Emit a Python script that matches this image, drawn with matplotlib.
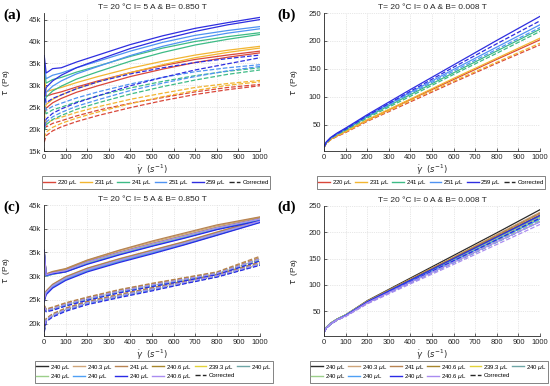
import matplotlib
matplotlib.use('Agg')
import matplotlib.pyplot as plt
from matplotlib.lines import Line2D
import numpy as np

plt.rcParams['font.family'] = ['Liberation Sans', 'DejaVu Sans']
plt.rcParams['mathtext.fontset'] = 'dejavusans'

# ---------------- panel (a) : I = 5 A, five volumes ----------------
vol_a = ['220 $\\mu$L', '231 $\\mu$L', '241 $\\mu$L', '251 $\\mu$L', '259 $\\mu$L']
col_a = ['#d9473a', '#f2b531', '#3dbb86', '#4f93f2', '#2e2ee0']
x_a = [1, 10, 40, 80, 150, 250, 400, 550, 700, 850, 1000]
# values in kPa, two sweeps per volume (upper with dip, lower)
a_up = [
    [31.0, 27.5, 28.0, 28.5, 29.6, 31.0, 32.9, 34.5, 35.9, 36.9, 37.8],
    [32.0, 28.5, 29.0, 29.5, 30.6, 32.0, 33.9, 35.5, 36.9, 38.0, 38.9],
    [34.0, 30.5, 31.3, 31.8, 33.0, 34.4, 36.6, 38.5, 40.0, 41.1, 42.0],
    [35.0, 31.5, 32.3, 32.8, 34.0, 35.5, 37.8, 39.8, 41.4, 42.5, 43.4],
    [36.8, 32.8, 33.8, 34.0, 35.3, 36.9, 39.3, 41.3, 43.0, 44.3, 45.5],
]
a_lo = [
    [23.0, 24.8, 26.0, 27.0, 28.4, 29.9, 32.0, 33.7, 35.2, 36.4, 37.4],
    [24.0, 25.6, 26.8, 27.8, 29.2, 30.8, 32.9, 34.7, 36.3, 37.5, 38.5],
    [25.5, 27.3, 28.7, 29.8, 31.4, 33.1, 35.5, 37.5, 39.2, 40.5, 41.6],
    [26.5, 28.4, 29.8, 31.0, 32.6, 34.3, 36.8, 38.9, 40.6, 41.9, 42.9],
    [27.5, 29.5, 31.0, 32.3, 34.0, 35.8, 38.4, 40.5, 42.3, 43.8, 45.0],
]
a_up_corr = [
    [22.5, 20.5, 21.3, 21.9, 23.0, 24.3, 25.9, 27.2, 28.5, 29.5, 30.2],
    [23.5, 21.3, 22.1, 22.7, 23.8, 25.1, 26.8, 28.2, 29.5, 30.4, 31.1],
    [25.5, 23.5, 24.4, 25.0, 26.2, 27.6, 29.4, 30.9, 32.2, 33.2, 34.0],
    [26.5, 24.3, 25.2, 25.9, 27.1, 28.5, 30.3, 31.8, 33.1, 34.0, 34.7],
    [28.5, 26.0, 27.0, 27.8, 29.2, 30.8, 32.6, 34.0, 35.2, 36.1, 36.9],
]
a_lo_corr = [
    [17.0, 18.5, 19.6, 20.5, 21.7, 23.1, 24.9, 26.5, 27.9, 29.0, 29.9],
    [18.0, 19.3, 20.4, 21.3, 22.5, 23.9, 25.8, 27.4, 28.8, 30.0, 30.8],
    [19.5, 21.0, 22.2, 23.1, 24.5, 26.0, 28.0, 29.7, 31.2, 32.5, 33.5],
    [20.0, 21.6, 22.8, 23.8, 25.2, 26.7, 28.8, 30.5, 32.0, 33.3, 34.3],
    [20.5, 22.3, 23.6, 24.6, 26.0, 27.6, 29.9, 31.8, 33.5, 34.9, 36.3],
]

# ---------------- panel (b) : I = 0 A, five volumes ----------------
x_b = [0.5, 10, 30, 60, 100, 200, 400, 600, 800, 1000]
b_raw = [
    [10, 17, 24, 30, 38, 58, 95, 131, 167, 202],
    [10, 17, 24, 31, 38, 59, 96, 133, 169, 205],
    [10, 18, 26, 33, 41, 64, 104, 143, 182, 221],
    [11, 18, 26, 34, 43, 66, 108, 149, 189, 229],
    [11, 19, 27, 35, 44, 68, 113, 157, 201, 244],
]
b_corr = [
    [9, 16, 23, 29, 36, 56, 91, 126, 160, 193],
    [9, 16, 23, 30, 37, 57, 93, 128, 162, 196],
    [10, 17, 25, 32, 40, 62, 101, 140, 178, 217],
    [10, 18, 26, 33, 42, 65, 106, 146, 185, 224],
    [10, 18, 26, 34, 42, 66, 110, 153, 195, 236],
]

# ---------------- panel (c) : I = 5 A, ten repeats of ~240 uL ----------------
vol_c = ['240 $\\mu$L', '240.3 $\\mu$L', '241 $\\mu$L', '240.6 $\\mu$L', '239.3 $\\mu$L',
         '240 $\\mu$L', '240 $\\mu$L', '240 $\\mu$L', '240 $\\mu$L', '240.6 $\\mu$L']
col_c = ['#2b2b2b', '#cfa57a', '#b88452', '#a8862c', '#e3d23a',
         '#6fa6a6', '#9ccf8a', '#4fa0f5', '#2a2ae6', '#a98cf0']
x_c = [1, 10, 40, 100, 200, 350, 500, 650, 800, 1000]
c_up = [
    [35.2, 30.1, 30.5, 31.0, 32.8, 34.8, 36.6, 38.3, 40.0, 42.1],
    [35.0, 30.4, 30.9, 31.5, 33.3, 35.4, 37.2, 38.9, 40.6, 42.4],
    [35.3, 30.5, 31.0, 31.6, 33.4, 35.5, 37.4, 39.1, 40.8, 42.5],
    [34.9, 30.3, 30.8, 31.3, 33.1, 35.1, 36.9, 38.6, 40.3, 42.2],
    [34.6, 30.0, 30.4, 30.9, 32.7, 34.7, 36.5, 38.2, 39.9, 41.9],
    [35.1, 30.2, 30.6, 31.1, 32.9, 34.9, 36.7, 38.4, 40.1, 42.0],
    [35.0, 30.1, 30.5, 31.0, 32.8, 34.8, 36.6, 38.3, 40.0, 42.0],
    [35.4, 30.0, 30.4, 30.9, 32.6, 34.6, 36.4, 38.1, 39.9, 41.8],
    [35.5, 30.2, 30.5, 30.9, 32.5, 34.5, 36.3, 38.0, 39.8, 41.7],
    [35.1, 30.3, 30.7, 31.2, 33.0, 35.0, 36.8, 38.5, 40.2, 42.1],
]
c_lo = [
    [25.0, 26.4, 27.8, 29.4, 31.2, 33.2, 35.0, 36.8, 38.8, 41.6],
    [25.3, 26.8, 28.2, 29.8, 31.6, 33.6, 35.4, 37.2, 39.2, 41.8],
    [25.4, 26.9, 28.3, 29.9, 31.7, 33.7, 35.5, 37.3, 39.3, 41.9],
    [25.2, 26.7, 28.1, 29.7, 31.5, 33.5, 35.3, 37.1, 39.1, 41.7],
    [24.8, 26.3, 27.7, 29.3, 31.1, 33.1, 34.9, 36.7, 38.7, 41.4],
    [25.1, 26.6, 28.0, 29.6, 31.4, 33.4, 35.2, 37.0, 39.0, 41.6],
    [25.0, 26.5, 27.9, 29.5, 31.3, 33.3, 35.1, 36.9, 38.9, 41.5],
    [24.9, 26.3, 27.7, 29.3, 31.1, 33.1, 34.9, 36.7, 38.7, 41.4],
    [24.6, 26.1, 27.5, 29.1, 30.9, 32.9, 34.7, 36.6, 38.6, 41.3],
    [25.1, 26.6, 28.0, 29.6, 31.4, 33.4, 35.2, 37.0, 39.0, 41.6],
]
c_up_corr = [
    [23.6, 22.7, 23.0, 23.9, 25.1, 26.7, 28.0, 29.2, 30.5, 33.5],
    [23.8, 23.0, 23.4, 24.3, 25.5, 27.1, 28.4, 29.6, 30.8, 34.0],
    [23.9, 23.1, 23.5, 24.4, 25.6, 27.2, 28.5, 29.7, 30.9, 34.2],
    [23.7, 22.9, 23.3, 24.2, 25.4, 27.0, 28.3, 29.5, 30.7, 33.8],
    [23.4, 22.6, 22.9, 23.8, 25.0, 26.6, 27.9, 29.1, 30.4, 33.4],
    [23.5, 22.8, 23.1, 24.0, 25.2, 26.8, 28.1, 29.3, 30.6, 33.6],
    [23.5, 22.7, 23.0, 23.9, 25.1, 26.7, 28.0, 29.2, 30.5, 33.6],
    [23.4, 22.6, 22.9, 23.8, 25.0, 26.6, 27.9, 29.1, 30.4, 33.3],
    [23.3, 22.5, 22.8, 23.7, 24.9, 26.5, 27.8, 29.0, 30.3, 33.2],
    [23.6, 22.8, 23.2, 24.1, 25.3, 26.9, 28.2, 29.4, 30.6, 33.7],
]
c_lo_corr = [
    [18.6, 20.7, 21.7, 22.9, 24.3, 25.8, 27.2, 28.6, 30.0, 32.5],
    [18.8, 21.0, 22.0, 23.2, 24.6, 26.1, 27.5, 28.9, 30.3, 32.8],
    [18.9, 21.1, 22.1, 23.3, 24.7, 26.2, 27.6, 29.0, 30.4, 33.0],
    [18.7, 20.9, 21.9, 23.1, 24.5, 26.0, 27.4, 28.8, 30.2, 32.7],
    [18.4, 20.6, 21.6, 22.8, 24.2, 25.7, 27.1, 28.5, 29.9, 32.4],
    [18.5, 20.8, 21.8, 23.0, 24.4, 25.9, 27.3, 28.7, 30.1, 32.6],
    [18.5, 20.7, 21.7, 22.9, 24.3, 25.8, 27.2, 28.6, 30.0, 32.5],
    [18.4, 20.6, 21.6, 22.8, 24.2, 25.7, 27.1, 28.5, 29.9, 32.4],
    [18.2, 20.4, 21.4, 22.6, 24.0, 25.5, 26.9, 28.4, 29.8, 32.3],
    [18.6, 20.8, 21.8, 23.0, 24.4, 25.9, 27.3, 28.7, 30.1, 32.6],
]

# ---------------- panel (d) : I = 0 A, ten repeats ----------------
x_d = [0.5, 10, 30, 60, 100, 200, 400, 600, 800, 1000]
d_raw = [
    [12, 19, 27, 35, 43, 70, 113, 156, 199, 243],
    [12, 19, 27, 35, 43, 69, 111, 153, 196, 238],
    [11, 19, 27, 35, 43, 69, 111, 152, 194, 236],
    [12, 19, 27, 35, 43, 69, 110, 151, 192, 233],
    [12, 19, 26, 34, 42, 67, 107, 146, 186, 226],
    [12, 19, 27, 35, 43, 68, 109, 149, 189, 230],
    [12, 19, 27, 35, 43, 68, 108, 148, 188, 228],
    [11, 18, 26, 34, 42, 67, 107, 146, 186, 225],
    [11, 18, 26, 34, 42, 68, 109, 150, 191, 232],
    [11, 18, 26, 34, 41, 66, 105, 143, 182, 220],
]
d_corr = [
    [11, 18, 26, 34, 42, 68, 110, 152, 194, 237],
    [11, 18, 26, 34, 42, 67, 108, 149, 191, 233],
    [11, 18, 26, 34, 42, 67, 108, 148, 189, 231],
    [11, 18, 26, 34, 42, 67, 107, 147, 187, 228],
    [11, 18, 25, 33, 41, 65, 104, 142, 181, 221],
    [11, 18, 26, 34, 42, 66, 106, 145, 184, 225],
    [11, 18, 26, 34, 42, 66, 105, 144, 183, 223],
    [10, 17, 25, 33, 41, 65, 104, 142, 181, 220],
    [10, 17, 25, 33, 41, 66, 106, 146, 186, 227],
    [10, 17, 25, 33, 40, 64, 102, 139, 177, 215],
]

xticks = list(range(0, 1001, 100))
ticks_a = [15, 20, 25, 30, 35, 40, 45]
ticks_c = [20, 25, 30, 35, 40, 45]
ticks_bd = [50, 100, 150, 200, 250]

title_on = 'T= 20 \u00b0C I= 5 A & B= 0.850 T'
title_off = 'T= 20 \u00b0C I= 0 A & B= 0.008 T'

fig = plt.figure(figsize=(5.5, 3.86), dpi=100)
W, H = 550, 386


def add_ax(l, t, r, b):
    return fig.add_axes([l / W, 1 - b / H, (r - l) / W, (b - t) / H])


def style(ax, ylab_x):
    for s in ['top', 'right']:
        ax.spines[s].set_visible(False)
    for s in ['left', 'bottom']:
        ax.spines[s].set_linewidth(0.6)
        ax.spines[s].set_color('#262626')
    ax.tick_params(direction='in', length=2, width=0.5, labelsize=5.5,
                   colors='#262626', pad=2)
    ax.grid(True, color='#d0d0d0', linestyle=':', linewidth=0.5)
    ax.set_axisbelow(True)
    ax.set_xlim(0, 1000)
    ax.set_xticks(xticks)
    ax.set_xlabel(r'$\dot{\gamma}\ \ (s^{-1})$', fontsize=6, color='#262626', labelpad=1)
    ax.set_ylabel(r'$\tau$  (Pa)', fontsize=6, color='#262626')
    ax.yaxis.set_label_coords(ylab_x, 0.5)


lw = 0.9

ax_a = add_ax(44, 13, 260, 151)
for i in range(5):
    ax_a.plot(x_a, a_lo_corr[i], '--', color=col_a[i], lw=lw)
    ax_a.plot(x_a, a_up_corr[i], '--', color=col_a[i], lw=lw)
    ax_a.plot(x_a, a_lo[i], '-', color=col_a[i], lw=lw)
    ax_a.plot(x_a, a_up[i], '-', color=col_a[i], lw=lw)
style(ax_a, -0.15)
ax_a.set_ylim(15, 46.5)
ax_a.set_yticks(ticks_a)
ax_a.set_yticklabels([f'{t}k' for t in ticks_a])
ax_a.set_title(title_on, fontsize=6, pad=3, color='#262626')

ax_b = add_ax(324, 13, 540, 151)
for i in range(5):
    ax_b.plot(x_b, b_corr[i], '--', color=col_a[i], lw=lw)
    ax_b.plot(x_b, b_raw[i], '-', color=col_a[i], lw=lw)
style(ax_b, -0.11)
ax_b.set_ylim(3, 250)
ax_b.set_yticks(ticks_bd)
ax_b.set_title(title_off, fontsize=6, pad=3, color='#262626')

ax_c = add_ax(44, 205, 260, 336)
for i in range(10):
    ax_c.plot(x_c, c_lo_corr[i], '--', color=col_c[i], lw=lw)
    ax_c.plot(x_c, c_up_corr[i], '--', color=col_c[i], lw=lw)
    ax_c.plot(x_c, c_lo[i], '-', color=col_c[i], lw=lw)
    ax_c.plot(x_c, c_up[i], '-', color=col_c[i], lw=lw)
style(ax_c, -0.15)
ax_c.set_ylim(17.4, 45)
ax_c.set_yticks(ticks_c)
ax_c.set_yticklabels([f'{t}k' for t in ticks_c])
ax_c.set_title(title_on, fontsize=6, pad=3, color='#262626')

ax_d = add_ax(324, 206, 540, 336)
for i in range(10):
    ax_d.plot(x_d, d_corr[i], '--', color=col_c[i], lw=lw)
    ax_d.plot(x_d, d_raw[i], '-', color=col_c[i], lw=lw)
style(ax_d, -0.11)
ax_d.set_ylim(3, 250)
ax_d.set_yticks(ticks_bd)
ax_d.set_title(title_off, fontsize=6, pad=3, color='#262626')

# legends
corr_h = Line2D([], [], color='#262626', ls='--', lw=1)
h5 = [Line2D([], [], color=c, lw=1) for c in col_a] + [corr_h]
l5 = vol_a + ['Corrected']
leg_kw = dict(fontsize=4.3, frameon=True, fancybox=False, edgecolor='#262626',
              handlelength=2.0, handletextpad=0.3, columnspacing=0.45,
              borderpad=0.3, borderaxespad=0, labelspacing=0.15,
              bbox_transform=fig.transFigure, loc='center')
for ax, cx in [(ax_a, 156), (ax_b, 431)]:
    lg = ax.legend(h5, l5, ncol=6, bbox_to_anchor=(cx / W, 1 - 182.5 / H), **leg_kw)
    lg.get_frame().set_linewidth(0.5)

h11 = [Line2D([], [], color=c, lw=1) for c in col_c] + [corr_h]
l11 = vol_c + ['Corrected']
order = [0, 6, 1, 7, 2, 8, 3, 9, 4, 10, 5]
for ax, cx in [(ax_c, 154), (ax_d, 429)]:
    lg = ax.legend([h11[k] for k in order], [l11[k] for k in order], ncol=6,
                   bbox_to_anchor=(cx / W, 1 - 372 / H), **leg_kw)
    lg.get_frame().set_linewidth(0.5)

# panel letters
for txt, px, py in [('(a)', 3, 15), ('(b)', 277, 15), ('(c)', 3, 207), ('(d)', 277, 207)]:
    fig.text(px / W, 1 - py / H, txt, fontsize=11, fontweight='bold',
             family='Liberation Serif', va='center', ha='left')

fig.savefig('out.png', dpi=100)
